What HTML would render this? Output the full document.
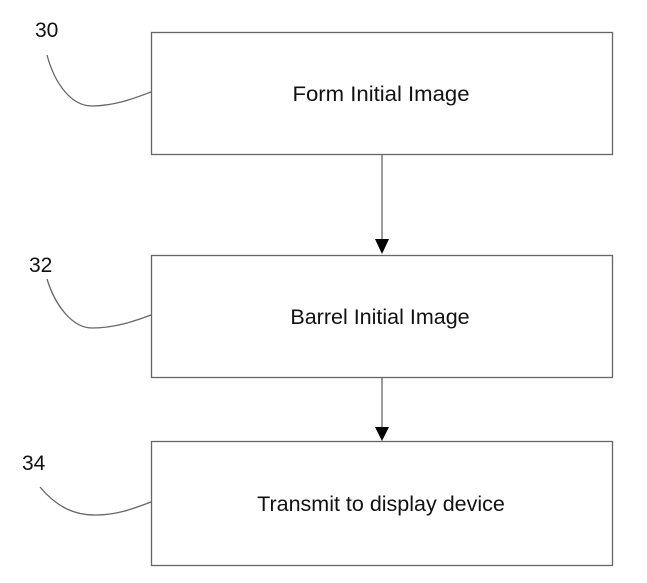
<!DOCTYPE html>
<html><head><style>
html,body{margin:0;padding:0;background:#fff;}
svg{display:block;}
text{font-family:"Liberation Sans",sans-serif;fill:#111;}
</style></head><body>
<svg width="647" height="583" viewBox="0 0 647 583">
<g fill="none" stroke="#666" stroke-width="1.3">
<rect x="151.5" y="32.5" width="461" height="122"/>
<rect x="151.5" y="255.5" width="461" height="122"/>
<rect x="151.5" y="441.5" width="461" height="124"/>
<path d="M47 55 C55 85 72 106 92 106 C115 106 135 98 151 92"/>
<path d="M47 279 C55 305 72 328 92 328 C115 328 135 321 151 315"/>
<path d="M40 487 C55 505 72 515 95 515 C118 515 135 508 151 502"/>
<line x1="382" y1="155" x2="382" y2="240"/>
<line x1="382" y1="378" x2="382" y2="427"/>
</g>
<polygon points="375,239 389,239 382,254" fill="#000"/>
<polygon points="375,427 389,427 382,441" fill="#000"/>
<text x="35" y="37" font-size="21">30</text>
<text x="29" y="272" font-size="21">32</text>
<text x="22" y="470" font-size="21">34</text>
<text x="381" y="101" font-size="21.5" text-anchor="middle" textLength="177" lengthAdjust="spacingAndGlyphs">Form Initial Image</text>
<text x="380" y="324" font-size="21.5" text-anchor="middle">Barrel Initial Image</text>
<text x="381" y="511" font-size="21.5" text-anchor="middle">Transmit to display device</text>
</svg>
</body></html>
